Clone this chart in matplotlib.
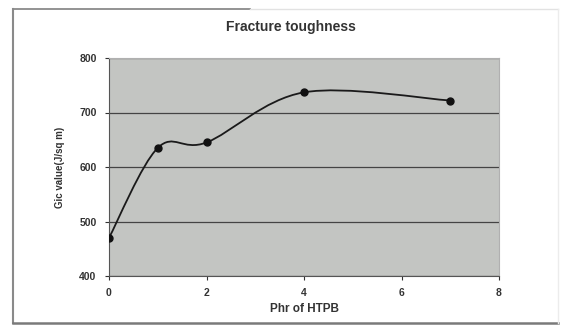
import matplotlib.pyplot as plt
from matplotlib.path import Path
from matplotlib.patches import PathPatch
from matplotlib.lines import Line2D

phr = [0, 1, 2, 4, 7]
gic = [470, 635, 645, 737, 722]
x_ticks = [0, 2, 4, 6, 8]
y_ticks = [400, 500, 600, 700, 800]

plt.rcParams['font.family'] = ['Liberation Sans', 'DejaVu Sans']
plt.rcParams['font.weight'] = 'bold'

W, H = 563, 327
fig = plt.figure(figsize=(W / 100, H / 100), dpi=100)
ax = fig.add_axes([109 / W, 1 - 276 / H, 390 / W, 218 / H])
ax.set_facecolor('#c3c5c2')

# smoothed line like excel (bezier through the points)
verts = [(phr[0], gic[0])]
codes = [Path.MOVETO]
n = len(phr)
for i in range(n - 1):
    p0 = (phr[max(i - 1, 0)], gic[max(i - 1, 0)])
    p1 = (phr[i], gic[i])
    p2 = (phr[i + 1], gic[i + 1])
    p3 = (phr[min(i + 2, n - 1)], gic[min(i + 2, n - 1)])
    c1 = (p1[0] + (p2[0] - p0[0]) / 6, p1[1] + (p2[1] - p0[1]) / 6)
    c2 = (p2[0] - (p3[0] - p1[0]) / 6, p2[1] - (p3[1] - p1[1]) / 6)
    verts += [c1, c2, p2]
    codes += [Path.CURVE4] * 3
ax.add_patch(PathPatch(Path(verts, codes), facecolor='none', edgecolor='#1a1a1a',
                       lw=1.3, zorder=3))
ax.plot(phr, gic, 'o', color='#111111', ms=5, zorder=4)

ax.set_xlim(0, 8)
ax.set_ylim(400, 800)
ax.set_xticks(x_ticks)
ax.set_yticks(y_ticks)
ax.tick_params(labelsize=7.5, length=3, color='#333333', pad=6)
for lab in ax.get_xticklabels() + ax.get_yticklabels():
    lab.set_fontweight('bold')
    lab.set_color('#333333')
ax.grid(axis='y', color='#444444', lw=0.9)
ax.set_axisbelow(True)
for s in ['top', 'right']:
    ax.spines[s].set_color('#b0b0b0')
for s in ['left', 'bottom']:
    ax.spines[s].set_color('#555555')

ax.set_xlabel('Phr of HTPB', fontsize=8.5, fontweight='bold', color='#333333', labelpad=3)
ax.set_ylabel('Gic value(J/sq m)', fontsize=7, fontweight='bold', color='#333333', labelpad=10)
fig.text(291 / W, 1 - 27 / H, 'Fracture toughness', ha='center', va='center',
         fontsize=10, fontweight='bold', color='#333333')

# scanned frame round the chart
fig.lines.append(Line2D([13 / W, 13 / W], [1 - 9 / H, 1 - 323 / H], transform=fig.transFigure,
                        color='#8a8a8a', lw=1.5))
fig.lines.append(Line2D([13 / W, 250 / W], [1 - 9 / H, 1 - 9 / H], transform=fig.transFigure,
                        color='#8a8a8a', lw=1.3))
fig.lines.append(Line2D([250 / W, 558 / W], [1 - 9 / H, 1 - 9 / H], transform=fig.transFigure,
                        color='#e2e2e2', lw=1))
fig.lines.append(Line2D([13 / W, 558 / W], [1 - 323 / H, 1 - 323 / H], transform=fig.transFigure,
                        color='#7a7a7a', lw=1.8))
fig.lines.append(Line2D([558 / W, 558 / W], [1 - 9 / H, 1 - 323 / H], transform=fig.transFigure,
                        color='#ececec', lw=1))

fig.savefig('out.png', dpi=100)
